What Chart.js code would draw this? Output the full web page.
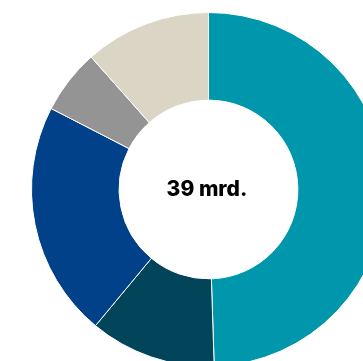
<!DOCTYPE html>
<html>

<head>
  <title>Document</title>
  <style>
    html, body { margin: 0; padding: 0; background: #fff; overflow: hidden; }
    body { width: 363px; height: 361px; position: relative; }
    #chart { position: absolute; left: 31px; top: 12px; }
    #total {
      position: absolute; left: 157px; top: 176px; width: 100px;
      text-align: center; font-family: Inter, sans-serif; font-weight: 800;
      font-size: 21px; line-height: 26px; color: #000;
    }
  </style>
</head>

<body>
  <canvas id="chart" width="355" height="355"></canvas>
  <div id="total">39 mrd.</div>
  <script src="https://cdn.jsdelivr.net/npm/chart.js"></script>
  <script>
    // milliarder per kategori, summerer til 39
    const labels = ['Kategori A', 'Kategori B', 'Kategori C', 'Kategori D', 'Kategori E'];
    const values = [19.3, 4.5, 8.4, 2.3, 4.5];
    const colors = ['#0096ab', '#02445a', '#00418a', '#949494', '#dad5c4'];

    let ctx = document.getElementById('chart').getContext('2d');
    let donut = new Chart(ctx, {
      type: 'doughnut',
      data: {
        labels: labels,
        datasets: [
          {
            data: values,
            backgroundColor: colors,
            borderColor: '#ffffff',
            borderWidth: 1,
            hoverBorderWidth: 1
          }
        ]
      },
      options: {
        responsive: false,
        animation: false,
        cutout: '50.5%',
        plugins: {
          legend: { display: false },
          tooltip: { enabled: false }
        }
      }
    })
  </script>
</body>

</html>
